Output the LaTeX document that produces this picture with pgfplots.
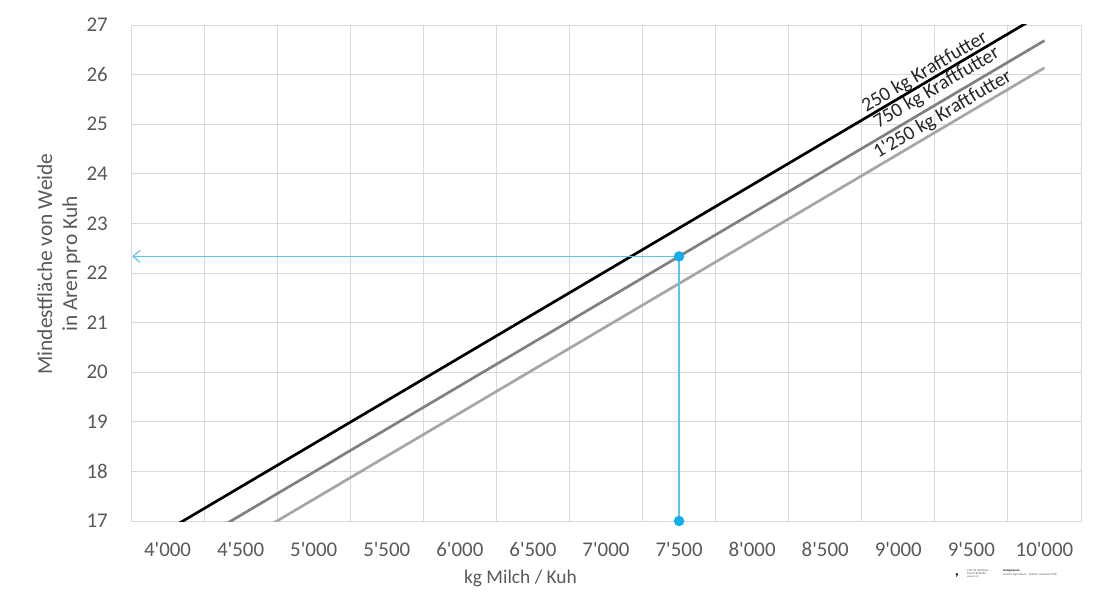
\documentclass[border=0pt]{standalone}
\usepackage{fontspec}
\setmainfont{Carlito}
\usepackage{pgfplots}
\pgfplotsset{compat=1.18}
\usetikzlibrary{arrows.meta}
\definecolor{tickgray}{RGB}{89,89,89}
\definecolor{gridgray}{RGB}{217,217,217}
\definecolor{midgray}{RGB}{128,128,128}
\definecolor{lightgrey}{RGB}{166,166,166}
\definecolor{bluel}{RGB}{91,197,242}
\definecolor{bluem}{RGB}{18,174,239}
\definecolor{labtext}{RGB}{38,38,38}
\newcommand\q{\textquotesingle}

\begin{document}
\begin{tikzpicture}
\useasboundingbox (-131bp,-82bp) rectangle (986bp,521bp);
\begin{axis}[
  at={(0,0)}, anchor=south west,
  scale only axis, width=950bp, height=496bp,
  xmin=3750, xmax=10250, ymin=17, ymax=27,
  scaled x ticks=false, scaled y ticks=false,
  xtick={4000,4500,...,10000},
  xticklabels={4\q000,4\q500,5\q000,5\q500,6\q000,6\q500,7\q000,7\q500,8\q000,8\q500,9\q000,9\q500,10\q000},
  minor xtick={3750,4250,...,10250},
  ytick={17,18,...,27},
  xminorgrids=true, xmajorgrids=false, ymajorgrids=true,
  grid style={gridgray, line width=0.9bp},
  minor grid style={gridgray, line width=0.9bp},
  axis line style={gridgray, line width=0.9bp},
  major tick length=0pt, minor tick length=0pt,
  tick style={draw=none},
  /pgf/number format/assume math mode=true,
  ticklabel style={font=\fontsize{21}{24}\selectfont, text=tickgray, inner sep=0pt},
  yticklabel style={anchor=east, xshift=-23bp},
  xticklabel style={anchor=north, yshift=-21bp},
  xlabel={kg Milch / Kuh},
  xlabel style={at={(axis description cs:0.41,-0.115)}, anchor=center, font=\fontsize{19.5}{22}\selectfont, text=tickgray},
  ylabel={Mindestfläche von Weide\\in Aren pro Kuh},
  ylabel style={at={(axis description cs:-0.0758,0.518)}, anchor=center, rotate=0, align=center, font=\fontsize{21.5}{25}\selectfont, text=tickgray},
]
% 250 kg Kraftfutter
\addplot[black, line width=2.7bp] coordinates {(4000,16.816) (4500,17.686) (5000,18.556) (5500,19.426) (6000,20.296) (6500,21.166) (7000,22.036) (7500,22.906) (8000,23.776) (8500,24.646) (9000,25.516) (9500,26.386) (10000,27.256)};
% 750 kg Kraftfutter
\addplot[midgray, line width=2.7bp] coordinates {(4000,16.245) (4500,17.115) (5000,17.985) (5500,18.855) (6000,19.725) (6500,20.595) (7000,21.465) (7500,22.335) (8000,23.205) (8500,24.075) (9000,24.945) (9500,25.815) (10000,26.685)};
% 1'250 kg Kraftfutter
\addplot[lightgrey, line width=2.7bp] coordinates {(4000,15.697) (4500,16.567) (5000,17.437) (5500,18.307) (6000,19.177) (6500,20.047) (7000,20.917) (7500,21.787) (8000,22.657) (8500,23.527) (9000,24.397) (9500,25.267) (10000,26.137)};
% reading example
\addplot[bluel, line width=1.2bp, -{Straight Barb[length=7bp,width=12bp,line width=1.2bp]}] coordinates {(7500,22.335) (3758,22.335)};
\addplot[bluel, line width=1.2bp, mark=*, mark size=4.6bp, mark options={draw=bluem, fill=bluem}] coordinates {(7500,17) (7500,22.335)};
\node[rotate=30.5, text=labtext, font=\fontsize{20}{22}\selectfont] at (axis cs:9181,26.05) {250 kg Kraftfutter};
\node[rotate=30.5, text=labtext, font=\fontsize{20}{22}\selectfont] at (axis cs:9263,25.73) {750 kg Kraftfutter};
\node[rotate=30.5, text=labtext, font=\fontsize{20}{22}\selectfont] at (axis cs:9304,25.19) {1\q250 kg Kraftfutter};
\end{axis}
% small logo at the bottom right
\node[font=\bfseries\fontsize{14}{14}\selectfont, anchor=center] at (826bp,-54bp) {,};
\node[font=\fontsize{2.8}{3.2}\selectfont, align=left, anchor=north west, inner sep=0pt, text=tickgray] at (836bp,-48bp) {ETAT DE FRIBOURG\\STAAT FREIBURG\\[0.5bp]www.fr.ch};
\node[font=\fontsize{3}{3.6}\selectfont, align=left, anchor=north west, inner sep=0pt] at (872bp,-48bp) {\textbf{Grangeneuve}\\[1bp]\color{tickgray}Section Agriculture -- Sektion Landwirtschaft};
\end{tikzpicture}
\end{document}
